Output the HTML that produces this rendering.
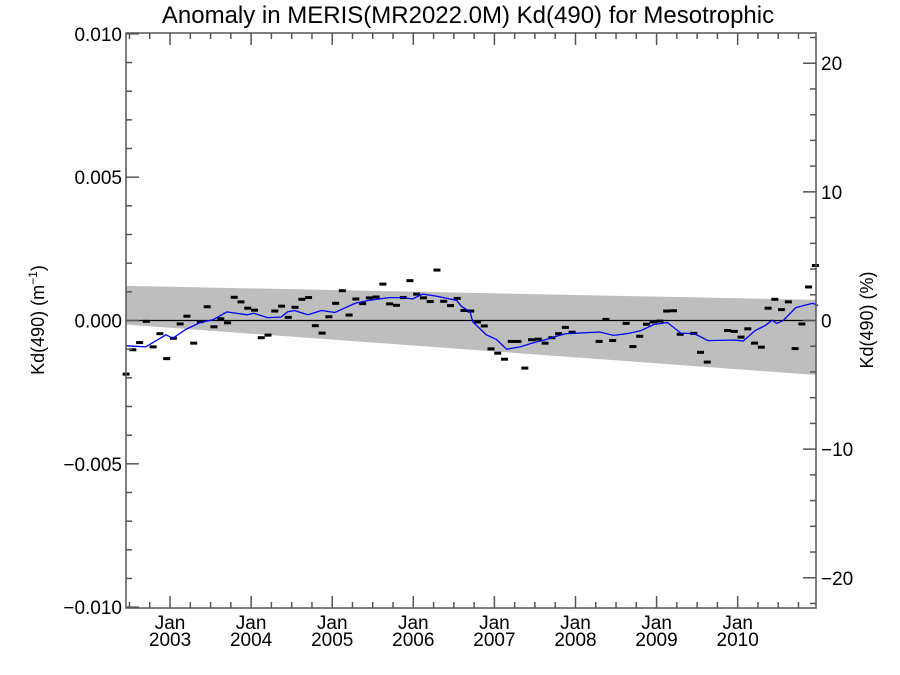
<!DOCTYPE html>
<html><head><meta charset="utf-8"><style>
html,body{margin:0;padding:0;background:#fff}
svg{display:block;font-family:"Liberation Sans",sans-serif}
</style></head><body>
<svg id="chart" width="900" height="675" viewBox="0 0 900 675" xmlns="http://www.w3.org/2000/svg">
<text x="468" y="23" font-size="24" text-anchor="middle">Anomaly in MERIS(MR2022.0M) Kd(490) for Mesotrophic</text>
<g id="plot"></g>
<text transform="translate(44,320) rotate(-90)" font-size="18" text-anchor="middle">Kd(490) (m<tspan dy="-7" font-size="12">−1</tspan><tspan dy="7">)</tspan></text>
<text transform="translate(873,320) rotate(-90)" font-size="18" text-anchor="middle">Kd(490) (%)</text>
</svg>
<script>
const obsMonths=[-7,-6,-5,-4,-3,-2,-1,0,1,2,3,4,5,6,7,8,9,10,11,12,13,14,15,16,17,18,19,20,21,22,23,24,25,26,27,28,29,30,31,32,33,34,35,36,37,38,39,40,41,42,43,44,45,46,47,48,49,50,51,52,53,54,55,56,57,58,59,63,64,65,67,68,69,70,71,72,73,74,75,77,78,79,82,83,84,85,86,87,88,89,90,91,92,93,94,95];
const obsValues=[-0.00187,-0.00102,-0.00077,-0.00003,-0.00092,-0.00046,-0.00133,-0.00062,-0.00012,0.00015,-0.00079,-0.00004,0.00048,-0.00022,0.00006,-0.00008,0.00081,0.00065,0.00043,0.00036,-0.0006,-0.00051,0.00033,0.0005,0.00011,0.00046,0.00074,0.0008,-0.00018,-0.00044,0.00013,0.0006,0.00104,0.00019,0.00075,0.00059,0.00079,0.00082,0.00127,0.00058,0.00053,0.0008,0.00139,0.00092,0.00079,0.00066,0.00176,0.00067,0.00052,0.00077,0.00035,0.00033,-0.00005,-0.00019,-0.00099,-0.00114,-0.00135,-0.00073,-0.00073,-0.00166,-0.00067,-0.00065,-0.00079,-0.0006,-0.00046,-0.00024,-0.00041,-0.00073,0.00004,-0.0007,-0.0001,-0.00091,-0.00055,-0.00013,-0.00005,-0.00002,0.00033,0.00034,-0.00048,-0.00045,-0.00111,-0.00145,-0.00035,-0.00038,-0.00058,-0.00029,-0.00079,-0.00093,0.00043,0.00074,0.00038,0.00065,-0.00098,-0.00012,0.00117,0.00192];
const smoothMonths=[-7.1,-4.1,-1.1,-0.1,1.9,3.9,5.9,7.9,10.9,11.9,13.9,15.9,16.9,17.9,19.9,21.9,23.9,26.9,28.9,31.9,33.9,35.4,36.9,38.9,41.9,42.6,43.9,44.3,46.3,47.8,49.3,51.3,53.2,55.2,57.1,58.1,63.1,65.1,67.1,69.1,71.1,73.1,75.1,77.1,79.1,83.1,84.3,86.1,87.6,88.6,89.3,90.3,92.1,94.6,95.4];
const smoothValues=[-0.00088,-0.00092,-0.0005,-0.00062,-0.0003,-0.00008,0.00003,0.0003,0.0002,0.00025,0.0001,0.00012,0.0003,0.00035,0.0002,0.00035,0.00028,0.0006,0.0007,0.0008,0.0008,0.00075,0.00092,0.00085,0.0007,0.0005,0.0003,-0.00005,-0.0005,-0.00066,-0.001,-0.00092,-0.00078,-0.00066,-0.00052,-0.00046,-0.0004,-0.00052,-0.00046,-0.00036,-0.00014,-0.00007,-0.00044,-0.00046,-0.0007,-0.00068,-0.00072,-0.00035,-0.00017,0.00001,-0.0001,0.00001,0.00045,0.0006,0.00052];
const bandUpper=[0.00121,0.00072];
const bandLower=[-0.00014,-0.0019];
const yTicksLeft=[-0.010,-0.005,0.000,0.005,0.010];
const yTickLabelsLeft=["−0.010","−0.005","0.000","0.005","0.010"];
const yTicksRight=[-20,-10,0,10,20];
const xYears=[2003,2004,2005,2006,2007,2008,2009,2010];

const L=126,R=816,T=33,B=608;
const xMin=2002.457,xMax=2010.966,yMin=-0.01003,yMax=0.01003;
const pMin=-22.35,pMax=22.35;
function X(d){return L+(d-xMin)/(xMax-xMin)*(R-L);}
function Y(v){return B-(v-yMin)/(yMax-yMin)*(B-T);}
function YP(p){return B-(p-pMin)/(pMax-pMin)*(B-T);}
function mDate(m){return 2003+(m+0.5)/12;}
const NS="http://www.w3.org/2000/svg";
const g=document.getElementById('plot');
function mk(tag,attrs,parent){const e=document.createElementNS(NS,tag);for(const k in attrs)e.setAttribute(k,attrs[k]);(parent||g).appendChild(e);return e;}

const band=mk('polygon',{points:`${L},${Y(bandUpper[0])} ${R},${Y(bandUpper[1])} ${R},${Y(bandLower[1])} ${L},${Y(bandLower[0])}`,fill:'#bebebe'});


const zl=mk('line',{x1:L,x2:R,y1:Y(0),y2:Y(0),stroke:'#000','stroke-width':1.3});


obsMonths.forEach((m,i)=>{
  const x=X(mDate(m)),y=Y(obsValues[i]);
  const r=mk('rect',{x:x-3.5,y:y-1.5,width:7,height:3,fill:'#000'});
  
  
});
const pl=mk('polyline',{points:smoothMonths.map((m,i)=>`${X(mDate(m)).toFixed(1)},${Y(smoothValues[i]).toFixed(1)}`).join(' '),fill:'none',stroke:'#0000ff','stroke-width':1.3});



const ax=mk('g',{stroke:'#555','stroke-width':1.5,fill:'none'});


mk('rect',{x:L,y:T,width:R-L,height:B-T},ax);
for(let v=-0.010;v<=0.0101;v+=0.001){
  const major=Math.abs(Math.round(v*1000)%5)===0;
  const y=Y(v);mk('line',{x1:L,x2:L+(major?13:6),y1:y,y2:y},ax);
}
yTicksLeft.forEach((v,i)=>{
  const t=mk('text',{x:L-4,y:Y(v)+7,'font-size':19,'text-anchor':'end',fill:'#000'});
  t.textContent=yTickLabelsLeft[i];
  
  
});
for(let p=-22;p<=22;p+=2){
  const major=p%10===0;const y=YP(p);
  mk('line',{x1:R,x2:R-(major?13:6),y1:y,y2:y},ax);
}
yTicksRight.forEach(p=>{
  const t=mk('text',{x:R+5,y:YP(p)+7,'font-size':19,'text-anchor':'start',fill:'#000'});
  t.textContent=p<0?('−'+Math.abs(p)):String(p);
  
  
});
for(let k=-6;k<=96;k+=3){
  const d=2003+k/12; if(d<xMin||d>xMax)continue;
  const major=k%12===0;const x=X(d);
  mk('line',{x1:x,x2:x,y1:B,y2:B-(major?12:6)},ax);
  mk('line',{x1:x,x2:x,y1:T,y2:T+(major?12:6)},ax);
}
xYears.forEach(yr=>{
  const x=X(yr);
  const t=mk('text',{x:x,y:B+21,'font-size':19,'text-anchor':'middle',fill:'#000'});
  t.textContent='Jan';
  
  
  const t2=mk('text',{x:x,y:B+38,'font-size':19,'text-anchor':'middle',fill:'#000'});
  t2.textContent=String(yr);
  
  
});
</script>
</body></html>
